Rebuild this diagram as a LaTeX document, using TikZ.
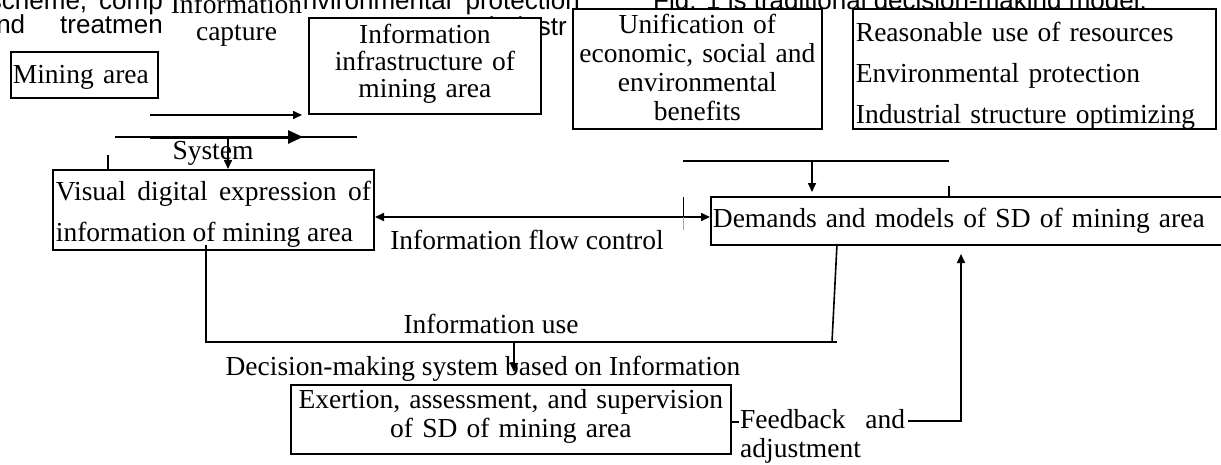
\documentclass[tikz,border=0pt]{standalone}
\usepackage{fontspec}
\setmainfont{Liberation Serif}
\newfontfamily\sansbg{Liberation Sans}
\usetikzlibrary{arrows.meta}

\begin{document}
\begin{tikzpicture}[x=1pt, y=-1pt,
    box/.style={draw, fill=white, line width=1.8pt, inner sep=0pt, anchor=north west, font=\fontsize{27.5}{29}\selectfont},
    lbl/.style={inner sep=0pt, anchor=base, font=\fontsize{27.5}{29}\selectfont},
    bg/.style={inner sep=0pt, font=\sansbg\fontsize{26}{28}\selectfont},
    link/.style={line width=1.6pt},
    arrow/.style={->, >={Triangle[length=9pt,width=8pt]}, line width=1.6pt},
    bigarrow/.style={->, >={Triangle[length=15pt,width=13pt]}, line width=3pt},
]
\useasboundingbox (0,0) rectangle (1221,464);

% page text cut off behind the figure
\node[bg, anchor=base east] (pgA) at (163,9)  {scheme,\hspace{12pt}comp};
\node[bg, anchor=base east] (pgB) at (580,9)  {environmental\hspace{14pt}protection};
\node[bg, anchor=base west] (pgC) at (653,9)  {Fig. 1 is traditional decision-making model.};
\node[bg, anchor=base east] (pgD) at (163,33) {and\hspace{35pt}treatmen};
\node[bg, anchor=base east] (pgE) at (567,35) {industr};

\node[lbl, fill=white, anchor=north, text width=133pt, align=center, text height=21pt, text depth=32pt,
      font=\fontsize{27.5}{27}\selectfont] (capture) at (236.5,-8) {Information\\capture};

% boxes
\node[box, inner xsep=2pt, text width=143pt, text height=32pt, text depth=14pt, align=left] (mining) at (10,51) {Mining area};
\node[box, text width=232pt, text height=26pt, text depth=70pt, align=center,
      font=\fontsize{27.5}{27}\selectfont] (infra) at (308,17) {Information\\infrastructure of\\mining area};
\node[box, text width=249pt, text height=25pt, text depth=95pt, align=center] (unify) at (572,8)
      {Unification of\\economic, social and\\environmental\\benefits};
\node[box, inner xsep=3pt, text width=357pt, text height=33pt, text depth=87pt, align=left,
      font=\fontsize{27.5}{41}\selectfont] (resources) at (852,8)
      {Reasonable use of resources\\Environmental protection\\Industrial structure optimizing};
\node[box, inner xsep=3pt, text width=315pt, text height=31pt, text depth=49pt, align=justify,
      font=\fontsize{27.5}{41}\selectfont] (visual) at (52,169)
      {Visual digital expression of\linebreak information of mining area};
\node[box, inner xsep=2pt, text width=510pt, text height=31pt, text depth=17pt, align=left] (demands) at (710,196)
      {Demands and models of SD of mining area};
\node[box, text width=440pt, text height=24pt, text depth=45pt, align=center] (exertion) at (290,384)
      {Exertion, assessment, and supervision\\of SD of mining area};

% capture and system arrows
\coordinate (capL) at (150,115);
\coordinate (capR) at (302,115);
\coordinate (sysL) at (115,137);
\coordinate (sysR) at (357,137);
\coordinate (thickL) at (150,137);
\coordinate (thickR) at (303,137);
\coordinate (sysdrop) at (228,137);
\coordinate (tickA) at (108,155);
\draw[arrow] (capL) -- (capR);
\draw[link] (sysL) -- (sysR);
\draw[bigarrow] (thickL) -- (thickR);
\draw[arrow] (sysdrop) -- (sysdrop |- visual.north);
\draw[link] (tickA) -- (tickA |- visual.north);

% flow control
\coordinate (flowL) at (375,217);
\coordinate (tickB) at (683,197);
\coordinate (tickBm) at (683,217);
\coordinate (tickBb) at (683,230);
\draw[arrow, <->] (flowL) -- (flowL -| demands.west);
\draw[line width=1pt] (tickB) -- (tickBm);
\draw[line width=1pt, black!35] (tickBm) -- (tickBb);

% demands input
\coordinate (topL) at (683,161);
\coordinate (topR) at (949,161);
\coordinate (topdrop) at (812,161);
\coordinate (topdropE) at (812,192);
\coordinate (tickC) at (949,186);
\draw[link] (topL) -- (topR);
\draw[arrow] (topdrop) -- (topdropE);
\draw[link] (tickC) -- (tickC |- demands.north);

% information use
\coordinate (useA) at (206,245);
\coordinate (useB) at (206,342);
\coordinate (useC) at (837,342);
\coordinate (useD) at (832,342);
\coordinate (useE) at (837,244);
\coordinate (useM) at (514,342);
\coordinate (useME) at (514,372);
\draw[link] (useA) -- (useB) -- (useC);
\draw[link] (useD) -- (useE);
\draw[arrow] (useM) -- (useME);

% feedback
\coordinate (fbA) at (730,422);
\coordinate (fbB) at (739,422);
\coordinate (fbC) at (908,421);
\coordinate (fbD) at (961,421);
\coordinate (fbE) at (961,254);
\draw[link] (fbA) -- (fbB);
\draw[arrow] (fbC) -- (fbD) -- (fbE);

% labels
\node[lbl] (system)   at (213,159) {System};
\node[lbl] (flowctl)  at (527,249) {Information flow control};
\node[lbl] (infouse)  at (491,333) {Information use};
\node[lbl] (decision) at (483,375) {Decision-making system based on Information};
\node[lbl, anchor=north west, text width=165pt, align=justify, text height=22pt, text depth=35pt] (feedback) at (740,406)
      {Feedback and\linebreak adjustment};

\end{tikzpicture}
\end{document}
